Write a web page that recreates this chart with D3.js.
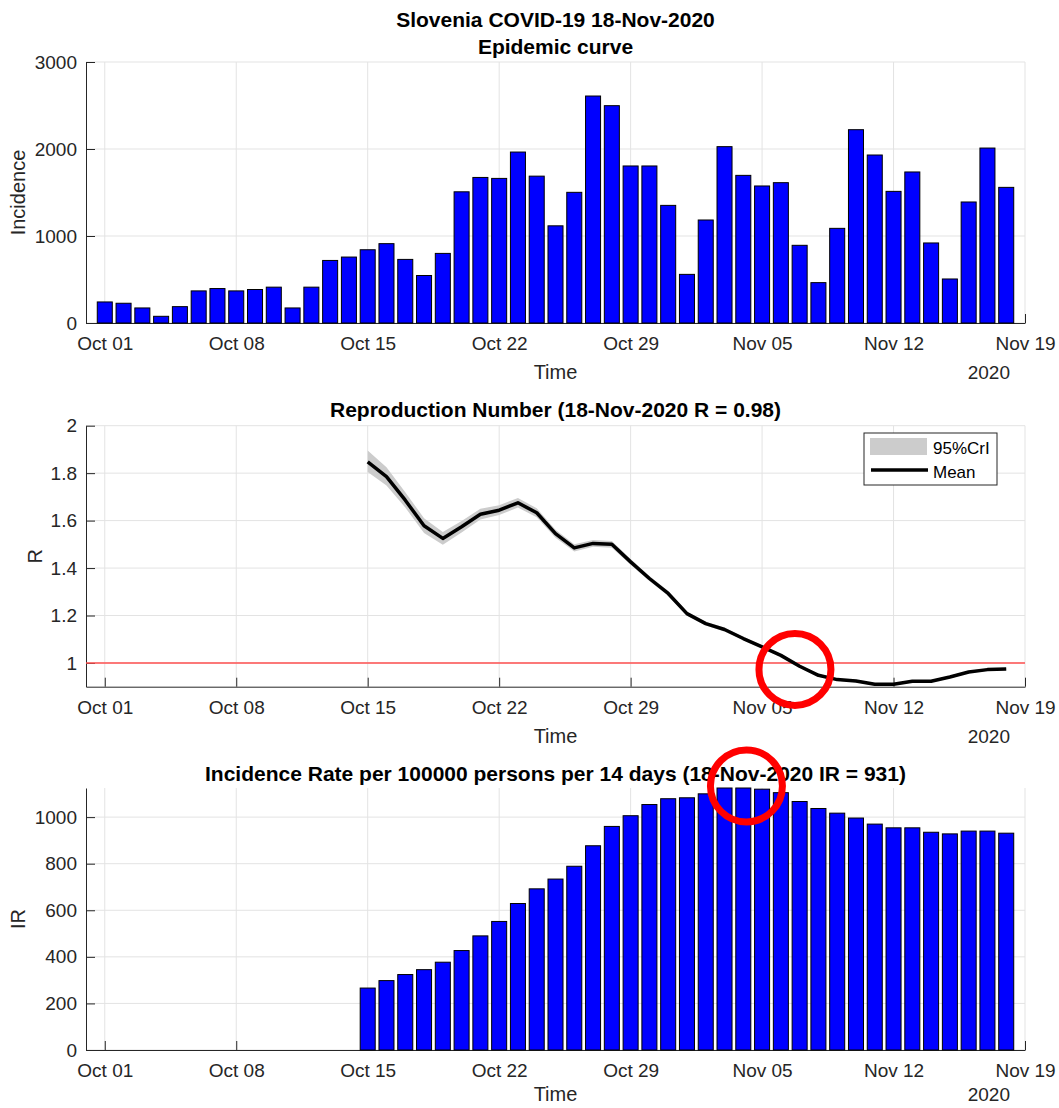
<!DOCTYPE html>
<html>
<head>
<meta charset="utf-8">
<script src="https://cdn.jsdelivr.net/npm/d3@7"></script>
<style>
  body { margin: 0; background: #fff; }
  svg { display: block; font-family: "Liberation Sans", Arial, sans-serif; }
</style>
</head>
<body>
<svg id="chart" width="1059" height="1108"></svg>
<script>
// values
const firstDay = "2020-10-01";      // first day of the incidence series
const rFirstDay = "2020-10-15";     // first day of R and IR series
const dateTicks = ["2020-10-01", "2020-10-08", "2020-10-15", "2020-10-22",
                   "2020-10-29", "2020-11-05", "2020-11-12", "2020-11-19"];

// daily new cases, Oct 01 .. Nov 18
const incidence = [242, 227, 173, 77, 188, 369, 396, 369, 385, 412,
                   173, 412, 719, 758, 842, 912, 731, 546, 800, 1508,
                   1673, 1662, 1965, 1688, 1117, 1502, 2609, 2498, 1805, 1805,
                   1352, 559, 1184, 2027, 1697, 1575, 1613, 893, 464, 1088,
                   2222, 1931, 1513, 1736, 920, 506, 1391, 2011, 1559];

// reproduction number, Oct 15 .. Nov 18
const rMean = [1.848, 1.785, 1.686, 1.578, 1.525, 1.574, 1.627, 1.644, 1.675, 1.633,
               1.545, 1.485, 1.504, 1.500, 1.426, 1.356, 1.293, 1.208, 1.166, 1.141,
               1.103, 1.068, 1.032, 0.986, 0.948, 0.930, 0.924, 0.910, 0.910, 0.923,
               0.923, 0.941, 0.962, 0.972, 0.975];
const rHigh = [1.895, 1.825, 1.720, 1.610, 1.552, 1.598, 1.650, 1.665, 1.695, 1.652,
               1.562, 1.500, 1.518, 1.514, 1.438, 1.367, 1.303, 1.217, 1.174, 1.149,
               1.110, 1.075, 1.038, 0.992, 0.954, 0.935, 0.929, 0.915, 0.915, 0.928,
               0.928, 0.946, 0.967, 0.977, 0.980];
const rLow = [1.805, 1.748, 1.655, 1.548, 1.498, 1.550, 1.605, 1.624, 1.655, 1.614,
              1.528, 1.470, 1.490, 1.486, 1.414, 1.345, 1.283, 1.199, 1.158, 1.133,
              1.096, 1.061, 1.026, 0.980, 0.942, 0.925, 0.919, 0.905, 0.905, 0.918,
              0.918, 0.936, 0.957, 0.967, 0.970];

// 14-day incidence rate per 100000, Oct 15 .. Nov 18
const ir = [266, 298, 324, 345, 377, 427, 490, 552, 629, 692,
            734, 789, 877, 960, 1006, 1054, 1079, 1083, 1100, 1125,
            1125, 1120, 1105, 1067, 1037, 1017, 996, 970, 954, 954,
            935, 928, 940, 940, 931];

const incTicks = [0, 1000, 2000, 3000];
const rTicks = [1, 1.2, 1.4, 1.6, 1.8, 2];
const irTicks = [0, 200, 400, 600, 800, 1000];
const rThreshold = 1;

// hand drawn red rings on the original picture
const rRing = {date: "2020-11-06T18:00", value: 0.973};
const irRing = {date: "2020-11-04T04:00", value: 1134};

const parseDay = d3.timeParse("%Y-%m-%d");
const parseTime = d3.timeParse("%Y-%m-%dT%H:%M");

const svg = d3.select("#chart");
svg.append("rect").attr("width", 1059).attr("height", 1108).attr("fill", "#fff");

const axisColor = "#262626";
const gridColor = "#e3e3e3";

const x = d3.scaleTime()
    .domain([parseDay("2020-09-30"), parseDay("2020-11-19")])
    .range([86, 1025]);
const dayWidth = x(parseDay("2020-10-02")) - x(parseDay("2020-10-01"));
const barW = dayWidth * 0.8;

const days = incidence.map((d, i) => d3.timeDay.offset(parseDay(firstDay), i));
const rDays = rMean.map((d, i) => d3.timeDay.offset(parseDay(rFirstDay), i));

// one panel: grid, axes, labels. returns the y scale and the group
function panel(top, bottom, yDomain, yTicks, yLabel, yLabelX, timeGap) {
    const y = d3.scaleLinear().domain(yDomain).range([bottom, top]);
    const g = svg.append("g");

    // grid
    g.append("g").selectAll("line")
        .data(yTicks)
        .join("line")
        .attr("x1", x.range()[0]).attr("x2", x.range()[1])
        .attr("y1", d => y(d)).attr("y2", d => y(d))
        .attr("stroke", gridColor);
    g.append("g").selectAll("line")
        .data(dateTicks.map(parseDay))
        .join("line")
        .attr("x1", d => x(d)).attr("x2", d => x(d))
        .attr("y1", top).attr("y2", bottom)
        .attr("stroke", gridColor);

    // axes, ticks pointing inside like matlab
    const ax = g.append("g")
        .attr("transform", `translate(0,${bottom})`)
        .call(d3.axisBottom(x).tickValues(dateTicks.map(parseDay))
            .tickFormat(d3.timeFormat("%b %d"))
            .tickSizeInner(-9).tickSizeOuter(0).tickPadding(14));
    const ay = g.append("g")
        .attr("transform", `translate(${x.range()[0]},0)`)
        .call(d3.axisLeft(y).tickValues(yTicks)
            .tickFormat(d => String(d))
            .tickSizeInner(-9).tickSizeOuter(0).tickPadding(9));
    [ax, ay].forEach(a => {
        a.selectAll("path, line").attr("stroke", axisColor);
        a.selectAll("text").attr("fill", axisColor).style("font-size", "19px");
        a.attr("font-family", null);
    });

    g.append("text")
        .attr("x", 555.5).attr("y", bottom + timeGap)
        .attr("text-anchor", "middle")
        .attr("fill", axisColor)
        .style("font-size", "20px")
        .text("Time");
    g.append("text")
        .attr("x", 1010).attr("y", bottom + timeGap)
        .attr("text-anchor", "end")
        .attr("fill", axisColor)
        .style("font-size", "19px")
        .text("2020");
    g.append("text")
        .attr("transform", `translate(${yLabelX},${(top + bottom) / 2}) rotate(-90)`)
        .attr("text-anchor", "middle")
        .attr("fill", axisColor)
        .style("font-size", "20px")
        .text(yLabel);

    return {g, y};
}

function title(lines, baseline) {
    lines.forEach((t, i) => {
        svg.append("text")
            .attr("x", 555.5).attr("y", baseline + i * 27)
            .attr("text-anchor", "middle")
            .attr("fill", "#000")
            .style("font-size", "21px")
            .style("font-weight", "bold")
            .text(t);
    });
}

// EPIDEMIC CURVE
const p1 = panel(62, 323, [0, 3000], incTicks, "Incidence", 25, 56);
p1.g.append("g").selectAll("rect")
    .data(incidence)
    .join("rect")
    .attr("x", (d, i) => x(days[i]) - barW / 2)
    .attr("width", barW)
    .attr("y", d => p1.y(d))
    .attr("height", d => p1.y(0) - p1.y(d))
    .attr("fill", "#0000ff")
    .attr("stroke", "#000")
    .attr("stroke-width", 1);
title(["Slovenia COVID-19 18-Nov-2020", "Epidemic curve"], 27);

// REPRODUCTION NUMBER
const p2 = panel(425.7, 686.7, [0.9, 2], rTicks, "R", 42, 56);
p2.g.append("line")
    .attr("x1", x.range()[0]).attr("x2", x.range()[1])
    .attr("y1", p2.y(rThreshold)).attr("y2", p2.y(rThreshold))
    .attr("stroke", "#ff5050").attr("stroke-width", 1.5);
p2.g.append("path")
    .datum(rMean.map((d, i) => i))
    .attr("d", d3.area()
        .x(i => x(rDays[i]))
        .y0(i => p2.y(rLow[i]))
        .y1(i => p2.y(rHigh[i])))
    .attr("fill", "#cccccc");
p2.g.append("path")
    .datum(rMean.map((d, i) => i))
    .attr("d", d3.line().x(i => x(rDays[i])).y(i => p2.y(rMean[i])))
    .attr("fill", "none")
    .attr("stroke", "#000")
    .attr("stroke-width", 3.5)
    .attr("stroke-linejoin", "round");
title(["Reproduction Number (18-Nov-2020 R = 0.98)"], 417);

// legend
const lg = p2.g.append("g").attr("transform", "translate(864,433)");
lg.append("rect").attr("width", 133).attr("height", 52)
    .attr("fill", "#fff").attr("stroke", axisColor).attr("stroke-width", 1);
lg.append("rect").attr("x", 6).attr("y", 5).attr("width", 57).attr("height", 17)
    .attr("fill", "#cccccc");
lg.append("line").attr("x1", 7).attr("x2", 64).attr("y1", 37).attr("y2", 37)
    .attr("stroke", "#000").attr("stroke-width", 3.5);
lg.selectAll("text.lab")
    .data(["95%CrI", "Mean"])
    .join("text")
    .attr("class", "lab")
    .attr("x", 69).attr("y", (d, i) => 21 + i * 24)
    .attr("fill", "#000")
    .style("font-size", "17px")
    .text(d => d);

// INCIDENCE RATE
const p3 = panel(788, 1050, [0, d3.max(ir)], irTicks, "IR", 25, 51);
p3.g.append("g").selectAll("rect")
    .data(ir)
    .join("rect")
    .attr("x", (d, i) => x(rDays[i]) - barW / 2)
    .attr("width", barW)
    .attr("y", d => p3.y(d))
    .attr("height", d => p3.y(0) - p3.y(d))
    .attr("fill", "#0000ff")
    .attr("stroke", "#000")
    .attr("stroke-width", 1);
title(["Incidence Rate per 100000 persons per 14 days (18-Nov-2020 IR = 931)"], 781);

// red rings drawn on top
[[rRing, p2.y], [irRing, p3.y]].forEach(([c, y]) => {
    svg.append("circle")
        .attr("cx", x(parseTime(c.date)))
        .attr("cy", y(c.value))
        .attr("r", 36)
        .attr("fill", "none")
        .attr("stroke", "#ff0000")
        .attr("stroke-width", 7);
});
</script>
</body>
</html>
